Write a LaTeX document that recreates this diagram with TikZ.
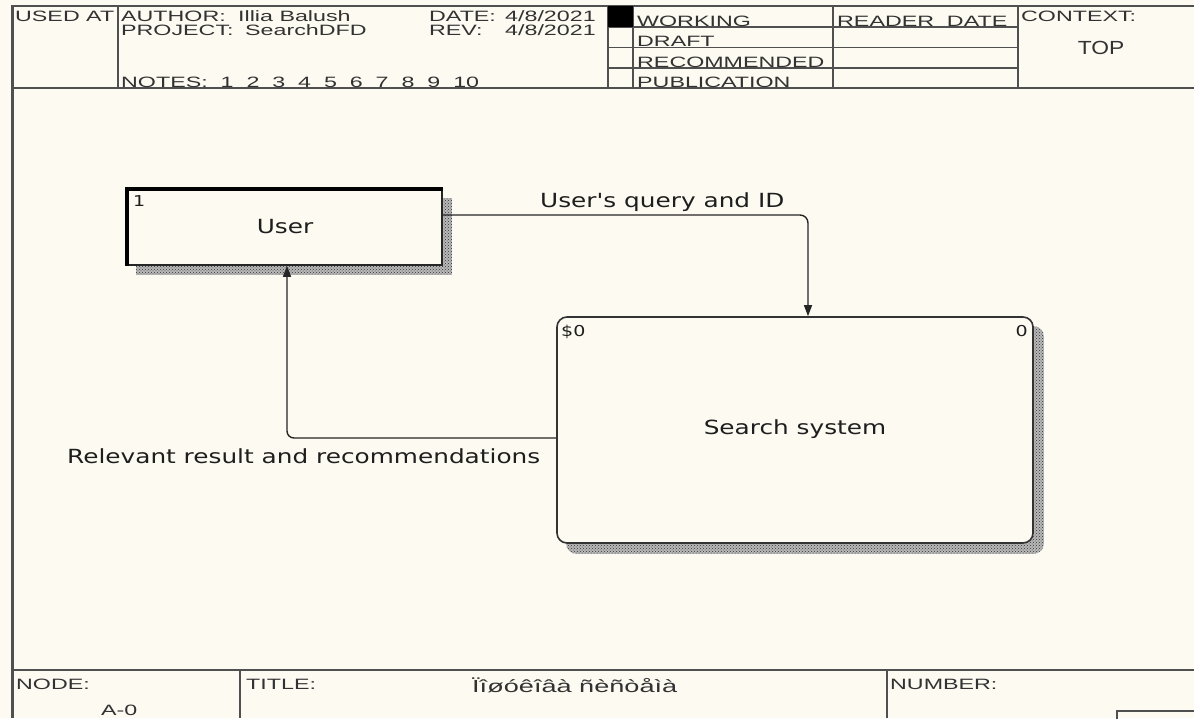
\documentclass[tikz,border=0pt]{standalone}
\usepackage{fontspec}
\usetikzlibrary{calc,arrows.meta,patterns,backgrounds}
\newfontfamily\formfont[FakeStretch=1.55]{Liberation Sans}
\newfontfamily\contextfont[FakeStretch=1.2]{Liberation Sans}
\newfontfamily\dfdfont[FakeStretch=1.27]{DejaVu Sans}
\definecolor{paper}{RGB}{253,250,241}
\definecolor{rulegray}{RGB}{80,80,80}
\definecolor{formink}{RGB}{50,50,50}
\definecolor{dfdink}{RGB}{30,30,30}
\begin{document}
\begin{tikzpicture}[x=1pt,y=-1pt,
  form/.style={font=\formfont\fontsize{15}{18}\selectfont, text=formink, anchor=base west, inner sep=0pt},
  lbl/.style={font=\dfdfont\fontsize{19.5}{22}\selectfont, text=dfdink, inner sep=0pt},
  tag/.style={font=\dfdfont\fontsize{15}{18}\selectfont, text=dfdink, anchor=base west, inner sep=0pt},
  frame/.style={draw=rulegray, line width=1.6pt},
  extent/.style={draw=black!85, line width=1.6pt, fill=paper, minimum width=314pt, minimum height=75pt, inner sep=0pt},
  process/.style={draw=black!80, line width=1.6pt, fill=paper, rounded corners=10pt, minimum width=476pt, minimum height=226pt, inner sep=0pt},
  shade/.style={fill=black!28, postaction={pattern=crosshatch dots, pattern color=black!80}},
  flow/.style={draw=black!85, line width=1.4pt, rounded corners=8pt, -{Triangle[length=11pt,width=8pt]}},
]
\useasboundingbox (0,0) rectangle (1194,718);
\begin{scope}[on background layer]
  \fill[paper] (0,0) rectangle (1194,718);
\end{scope}

% ---- form frame: header block ----
\draw[frame] (12,6) -- (1194,6);
\draw[frame] (12,88) -- (1194,88);
\draw[frame] (118,6) -- (118,88);
\draw[frame] (608,6) -- (608,88);
\draw[frame] (633,6) -- (633,88);
\draw[frame] (833,6) -- (833,88);
\draw[frame] (1018,6) -- (1018,88);
\foreach \yy in {27,47.5,68} \draw[frame] (608,\yy) -- (1018,\yy);
\fill[black] (608,6) rectangle (633,27);
\draw[rulegray, line width=3pt] (12,5) -- (12,718);

% ---- form frame: footer block ----
\draw[frame] (12,670) -- (1194,670);
\draw[frame] (240,670) -- (240,718);
\draw[frame] (887,670) -- (887,718);
\draw[frame] (1117,730) -- (1117,711) -- (1200,711);

% ---- header texts ----
\node[form] (usedat) at (15,21) {USED AT};
\node[form] (author) at (121,21) {AUTHOR:};
\node[form] (authorv) at (238,21) {Illia Balush};
\node[form] (project) at (121,35) {PROJECT:};
\node[form] (projectv) at (245,35) {SearchDFD};
\node[form] (notes) at (121,87) {NOTES:\ \ 1\ \ 2\ \ 3\ \ 4\ \ 5\ \ 6\ \ 7\ \ 8\ \ 9\ \ 10};
\node[form] (date) at (429,21) {DATE:};
\node[form] (datev) at (505,21) {4/8/2021};
\node[form] (rev) at (429,35) {REV:};
\node[form] (revv) at (505,35) {4/8/2021};
\node[form] (working) at (637,26) {WORKING};
\node[form] (draft) at (637,46.5) {DRAFT};
\node[form] (recommended) at (637,67) {RECOMMENDED};
\node[form] (publication) at (637,87.5) {PUBLICATION};
\node[form] (reader) at (837,26) {READER\ \ DATE};
\node[form] (context) at (1021,21) {CONTEXT:};
\node[form, anchor=base, font=\contextfont\fontsize{19}{22}\selectfont] (top) at (1101,54) {TOP};

% ---- footer texts ----
\node[form] (nodelbl) at (16,689) {NODE:};
\node[form] (nodev) at (101,715) {A-0};
\node[form] (titlelbl) at (246,689) {TITLE:};
\node[form, font=\formfont\fontsize{17.5}{21}\selectfont] (titlev) at (472,692) {Ïîøóêîâà ñèñòåìà};
\node[form] (numberlbl) at (890,689) {NUMBER:};

% ---- diagram ----
\node[extent] (user) at (285,227.5) {};
\draw[black, line width=3.5pt] (user.south west) -- (user.north west) -- (user.north east);
\node[lbl, anchor=base] (usertxt) at (285,233) {User};
\node[tag] (userno) at (133,206) {1};

\node[process] (search) at (795,430) {};
\node[lbl, anchor=base] (searchtxt) at (795,434) {Search system};
\node[tag] (cost) at (561,336) {\$0};
\node[tag, anchor=base east] (searchno) at (1028,336) {0};

\begin{scope}[on background layer]
  \path[shade] ($(user.south west)+(9,9)$) rectangle ($(user.north east)+(9,9)$);
  \path[shade, rounded corners=10pt] ($(search.south west)+(10,10)$) rectangle ($(search.north east)+(10,10)$);
\end{scope}

\draw[flow] ($(user.east)+(0,-12.5)$) -| ($(search.north)+(13,0)$);
\draw[flow, rounded corners=7pt] ($(search.west)+(0,8)$) -| ($(user.south)+(2,0)$);

\node[lbl, anchor=base west] (querylbl) at (540,207) {User's query and ID};
\node[lbl, anchor=base west] (resultlbl) at (67,463) {Relevant result and recommendations};
\end{tikzpicture}
\end{document}
